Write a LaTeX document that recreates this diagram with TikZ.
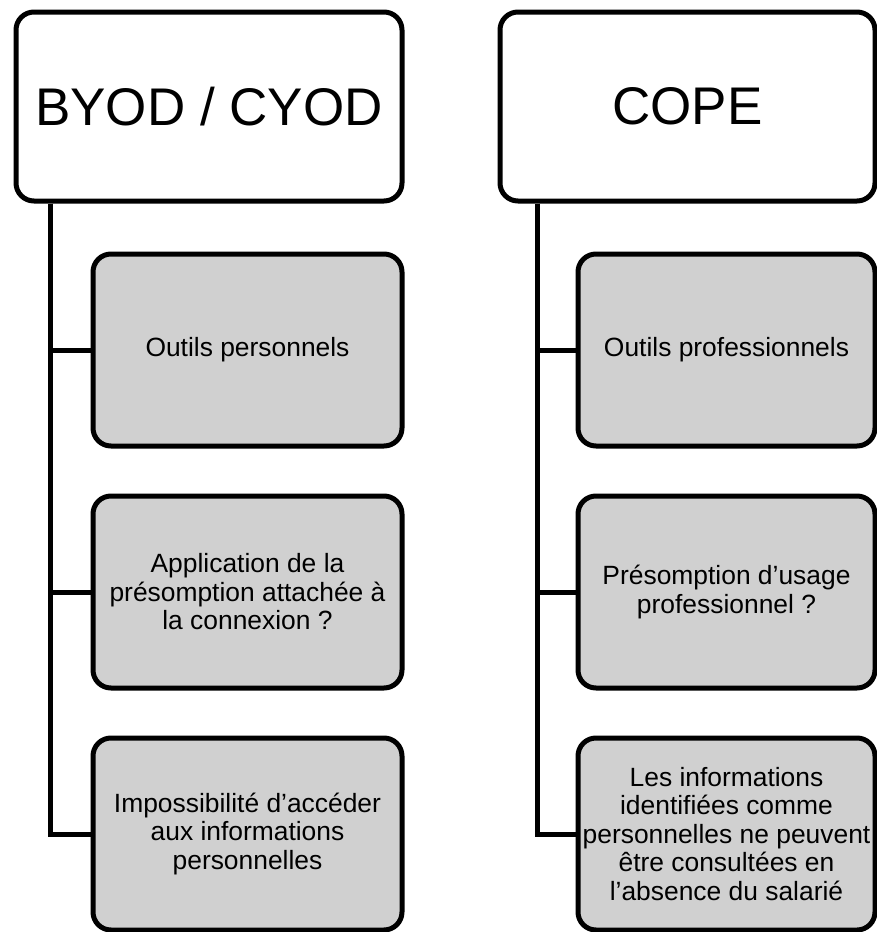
\documentclass[tikz,border=0pt]{standalone}
\usepackage{fontspec}
\setmainfont{Liberation Sans}
\usetikzlibrary{positioning}
\definecolor{boxgray}{RGB}{208,208,208}

\begin{document}
\begin{tikzpicture}[
        x=1pt, y=-1pt,
        head/.style={rectangle, rounded corners=18pt, draw=black, line width=5pt, fill=white,
            font=\fontsize{53}{58}\selectfont, minimum height=189pt},
        item/.style={rectangle, rounded corners=18pt, draw=black, line width=5pt, fill=boxgray,
            font=\fontsize{26.4}{28.5}\selectfont, align=center, inner sep=1pt,
            minimum height=192pt},
        link/.style={line width=5pt, black}
    ]
    \useasboundingbox (0,0) rectangle (877,932);

    % BYOD / CYOD column
    \node[head, minimum width=386pt] (byod) at (209,106.5) {BYOD / CYOD};
    \node[item, minimum width=309pt] (b1) at (247.5,350) {Outils personnels};
    \node[item, minimum width=309pt] (b2) at (247.5,592) {Application de la\\présomption attachée à\\la connexion ?};
    \node[item, minimum width=309pt] (b3) at (247.5,834) {Impossibilité d’accéder\\aux informations\\personnelles};
    \draw[link] ([xshift=37pt]byod.south west) |- (b1.west);
    \draw[link] ([xshift=37pt]byod.south west) |- (b2.west);
    \draw[link] ([xshift=37pt]byod.south west) |- (b3.west);

    % COPE column
    \node[head, minimum width=375pt] (cope) at (687.5,106.5) {COPE};
    \node[item, minimum width=297pt] (c1) at (726.5,350) {Outils professionnels};
    \node[item, minimum width=297pt] (c2) at (726.5,592) {Présomption d’usage\\professionnel ?};
    \node[item, minimum width=297pt] (c3) at (726.5,834) {Les informations\\identifiées comme\\personnelles ne peuvent\\être consultées en\\l’absence du salarié};
    \draw[link] ([xshift=40pt]cope.south west) |- (c1.west);
    \draw[link] ([xshift=40pt]cope.south west) |- (c2.west);
    \draw[link] ([xshift=40pt]cope.south west) |- (c3.west);

\end{tikzpicture}
\end{document}
